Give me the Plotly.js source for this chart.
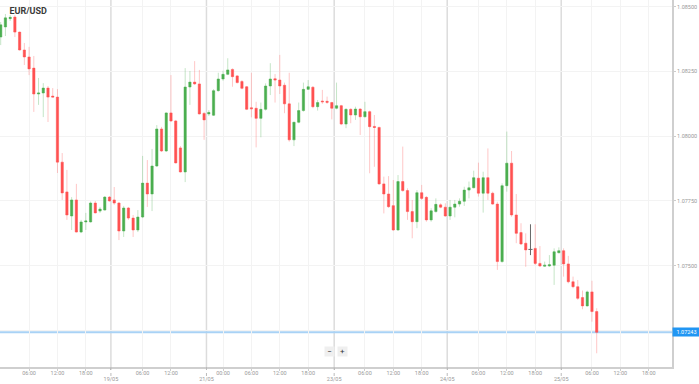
<!DOCTYPE html>
<html>
<head>
<meta charset="utf-8">
<script src="https://cdn.plot.ly/plotly-3.0.1.min.js"></script>
<style>html,body{margin:0;padding:0;background:#fff;}#chart{width:699px;height:384px;}</style>
</head>
<body>
<div id="chart"></div>
<script>
// Hourly EUR/USD candles
const open = [1.08383,1.08422,1.08454,1.08460,1.08402,1.08333,1.08306,1.08263,1.08163,1.08167,
1.08186,1.08155,1.08151,1.07900,1.07785,1.07692,1.07754,1.07630,1.07669,1.07669,
1.07742,1.07711,1.07715,1.07765,1.07754,1.07742,1.07634,1.07723,1.07684,1.07638,
1.07688,1.07819,1.07777,1.07885,1.08028,1.07943,1.08090,1.08059,1.07955,1.07862,
1.08190,1.08209,1.08202,1.08088,1.08086,1.08081,1.08176,1.08221,1.08239,1.08258,
1.08233,1.08211,1.08191,1.08110,1.08108,1.08069,1.08104,1.08194,1.08222,1.08217,
1.08197,1.08125,1.07986,1.08054,1.08099,1.08181,1.08189,1.08114,1.08136,1.08135,
1.08130,1.08108,1.08118,1.08047,1.08104,1.08082,1.08105,1.08075,1.08095,1.08038,
1.08034,1.07816,1.07777,1.07732,1.07638,1.07825,1.07790,1.07709,1.07670,1.07782,
1.07764,1.07677,1.07709,1.07735,1.07726,1.07692,1.07726,1.07738,1.07749,1.07792,
1.07801,1.07838,1.07780,1.07840,1.07780,1.07738,1.07516,1.07809,1.07896,1.07696,
1.07628,1.07587,1.07563,1.07567,1.07509,1.07498,1.07499,1.07502,1.07550,1.07558,
1.07507,1.07438,1.07419,1.07377,1.07345,1.07399,1.07323];
const high = [1.08441,1.08472,1.08468,1.08468,1.08404,1.08360,1.08345,1.08310,1.08225,1.08205,
1.08194,1.08186,1.08182,1.07935,1.07870,1.07765,1.07816,1.07677,1.07704,1.07748,
1.07750,1.07727,1.07769,1.07769,1.07804,1.07746,1.07731,1.07727,1.07696,1.07715,
1.07924,1.07908,1.07951,1.08043,1.08036,1.08092,1.08236,1.08063,1.07962,1.08263,
1.08252,1.08290,1.08256,1.08094,1.08101,1.08182,1.08245,1.08253,1.08301,1.08262,
1.08236,1.08217,1.08194,1.08245,1.08133,1.08130,1.08204,1.08282,1.08240,1.08314,
1.08207,1.08245,1.08056,1.08130,1.08207,1.08217,1.08194,1.08140,1.08179,1.08153,
1.08133,1.08207,1.08121,1.08108,1.08108,1.08114,1.08108,1.08133,1.08099,1.08082,
1.08037,1.07844,1.07846,1.07831,1.07850,1.07960,1.07799,1.07754,1.07792,1.07812,
1.07769,1.07722,1.07760,1.07741,1.07741,1.07754,1.07754,1.07760,1.07805,1.07825,
1.07867,1.07898,1.07863,1.07953,1.07786,1.07747,1.07818,1.08018,1.07943,1.07777,
1.07664,1.07625,1.07660,1.07660,1.07576,1.07516,1.07541,1.07567,1.07571,1.07567,
1.07538,1.07458,1.07445,1.07404,1.07404,1.07442,1.07336];
const low = [1.08352,1.08387,1.08445,1.08383,1.08331,1.08275,1.08236,1.08094,1.08121,1.08074,
1.08055,1.08150,1.07858,1.07754,1.07677,1.07638,1.07628,1.07626,1.07638,1.07667,
1.07702,1.07704,1.07713,1.07748,1.07735,1.07599,1.07611,1.07677,1.07611,1.07630,
1.07684,1.07727,1.07711,1.07881,1.07939,1.07939,1.08055,1.07895,1.07860,1.07823,
1.08121,1.08198,1.08084,1.07986,1.08078,1.08078,1.08172,1.08214,1.08236,1.08191,
1.08204,1.08181,1.08101,1.08073,1.07957,1.07996,1.08099,1.08159,1.08130,1.08163,
1.08089,1.07979,1.07962,1.08050,1.08095,1.08179,1.08108,1.08099,1.08125,1.08125,
1.08065,1.08104,1.08043,1.08031,1.08050,1.08063,1.08005,1.08073,1.07857,1.07882,
1.07812,1.07702,1.07723,1.07635,1.07635,1.07786,1.07677,1.07606,1.07645,1.07754,
1.07670,1.07670,1.07705,1.07722,1.07689,1.07677,1.07687,1.07728,1.07731,1.07760,
1.07799,1.07767,1.07705,1.07754,1.07735,1.07484,1.07512,1.07786,1.07689,1.07587,
1.07580,1.07496,1.07541,1.07503,1.07496,1.07496,1.07496,1.07426,1.07548,1.07458,
1.07432,1.07413,1.07368,1.07332,1.07342,1.07284,1.07162];
const close = [1.08430,1.08457,1.08459,1.08402,1.08333,1.08306,1.08260,1.08163,1.08167,1.08186,
1.08151,1.08151,1.07900,1.07781,1.07696,1.07754,1.07630,1.07669,1.07673,1.07742,
1.07704,1.07719,1.07765,1.07750,1.07742,1.07634,1.07723,1.07684,1.07638,1.07688,
1.07819,1.07777,1.07885,1.08028,1.07943,1.08090,1.08059,1.07897,1.07862,1.08190,
1.08209,1.08202,1.08086,1.08063,1.08092,1.08176,1.08221,1.08239,1.08256,1.08230,
1.08207,1.08185,1.08104,1.08106,1.08069,1.08104,1.08194,1.08221,1.08217,1.08194,
1.08125,1.07986,1.08054,1.08099,1.08181,1.08191,1.08114,1.08130,1.08133,1.08131,
1.08108,1.08118,1.08047,1.08104,1.08082,1.08105,1.08075,1.08095,1.08037,1.08034,
1.07816,1.07777,1.07728,1.07638,1.07825,1.07790,1.07709,1.07670,1.07782,1.07760,
1.07677,1.07712,1.07737,1.07726,1.07692,1.07726,1.07738,1.07749,1.07792,1.07801,
1.07840,1.07780,1.07840,1.07780,1.07738,1.07516,1.07809,1.07896,1.07696,1.07625,
1.07584,1.07561,1.07563,1.07509,1.07499,1.07502,1.07504,1.07554,1.07558,1.07507,
1.07438,1.07419,1.07374,1.07345,1.07399,1.07323,1.07243];

// x-axis ticks (in candle-index units)
const timeTickVals = [6,12,18,30,36,47,53,59,65,77,83,89,101,107,113,125,131,137];
const timeTickText = ['06:00','12:00','18:00','06:00','12:00','00:00','06:00','12:00','18:00','06:00','12:00','18:00','06:00','12:00','18:00','06:00','12:00','18:00'];
const dayTickVals = [23.3,43.5,70.5,94.4,118.5];
const dayTickText = ['19/05','21/05','23/05','24/05','25/05'];
// y-axis ticks
const priceTickVals = [1.0725,1.0750,1.0775,1.0800,1.0825,1.0850];
const priceTickText = priceTickVals.map(v => v.toFixed(5));

const symbol = 'EUR/USD';

const idx = open.map((_, i) => i);
const UP = '#4caf50', DOWN = '#ff5252';

function wicks(filter) {
  const x = [], y = [];
  idx.forEach(i => { if (filter(i)) { x.push(i, i, null); y.push(low[i], high[i], null); } });
  return {x, y};
}
const wu = wicks(i => close[i] > open[i]);
const wd = wicks(i => close[i] < open[i]);
const wf = wicks(i => close[i] === open[i]);
const bodyIdx = idx.filter(i => close[i] !== open[i]);
const flatIdx = idx.filter(i => close[i] === open[i]);

const traces = [
  {type:'scatter', mode:'lines', x:wu.x, y:wu.y, line:{color:'rgba(76,175,80,0.32)', width:1}, hoverinfo:'skip', showlegend:false},
  {type:'scatter', mode:'lines', x:wd.x, y:wd.y, line:{color:'rgba(255,82,82,0.32)', width:1}, hoverinfo:'skip', showlegend:false},
  {type:'scatter', mode:'lines', x:wf.x, y:wf.y, line:{color:'#666', width:1}, hoverinfo:'skip', showlegend:false},
  {type:'candlestick',
   x: bodyIdx,
   open: bodyIdx.map(i => open[i]),
   close: bodyIdx.map(i => close[i]),
   high: bodyIdx.map(i => Math.max(open[i], close[i])),
   low: bodyIdx.map(i => Math.min(open[i], close[i])),
   increasing:{line:{color:UP, width:0.5}, fillcolor:UP},
   decreasing:{line:{color:DOWN, width:0.5}, fillcolor:DOWN},
   showlegend:false, hoverinfo:'skip'},
  {type:'scatter', mode:'markers', x:flatIdx, y:flatIdx.map(i => close[i]),
   marker:{symbol:'line-ew', size:3, line:{color:'#666', width:1}}, hoverinfo:'skip', showlegend:false},
  // carrier for the day-label axis
  {type:'scatter', mode:'markers', x:dayTickVals, y:dayTickVals.map(() => priceTickVals[0]), xaxis:'x2',
   marker:{opacity:0}, hoverinfo:'skip', showlegend:false}
];

const last = close[close.length - 1];
const shapes = [];
dayTickVals.forEach(v => {
  shapes.push({type:'line', xref:'x', yref:'paper', x0:v, x1:v, y0:0, y1:1, line:{color:'#dcdcdc', width:1.5}, layer:'below'});
  shapes.push({type:'line', xref:'x', yref:'paper', x0:v, x1:v, y0:0, y1:-0.025, line:{color:'#bbb', width:1, dash:'dot'}, layer:'above'});
});
shapes.push({type:'line', xref:'paper', yref:'y', x0:0, x1:1, y0:last, y1:last, line:{color:'#a9d2f5', width:2}, layer:'below'});

const font = 'Roboto, "Noto Sans", sans-serif';
const xr = [-0.148, 141.92];
const layout = {
  width:699, height:384,
  margin:{l:0, r:27, t:0, b:17},
  paper_bgcolor:'#fff', plot_bgcolor:'#fff',
  font:{family:font},
  title:{text:'<b>'+symbol+'</b>', x:0.0135, xanchor:'left', y:0.972, yanchor:'middle', xref:'container', yref:'container',
         font:{size:9, color:'#3a3a3a', family:font}},
  showlegend:false,
  xaxis:{range:xr, tickvals: timeTickVals, ticktext: timeTickText,
         tickfont:{size:5.5, color:'#999'}, tickangle:0, ticks:'outside', ticklen:2, tickcolor:'#ccc',
         ticklabelstandoff:-3,
         showline:true, linecolor:'#cfcfcf', linewidth:2, showgrid:true, gridcolor:'#f3f3f3', gridwidth:1,
         zeroline:false, rangeslider:{visible:false}, fixedrange:true},
  xaxis2:{range:xr, overlaying:'x', side:'bottom', anchor:'y', tickvals: dayTickVals, ticktext: dayTickText,
         tickfont:{size:5.5, color:'#999'}, tickangle:0, ticks:'outside', ticklen:2, tickcolor:'#bbb',
         ticklabelstandoff:4, showline:false, showgrid:false, zeroline:false, fixedrange:true},
  yaxis:{side:'right', range:[1.07109, 1.08526], tickvals:priceTickVals, ticktext:priceTickText,
         tickfont:{size:5.5, color:'#999'}, ticks:'outside', ticklen:2, tickcolor:'#ccc',
         showline:true, linecolor:'#cfcfcf', linewidth:2, showgrid:true, gridcolor:'#f3f3f3',
         zeroline:false, fixedrange:true},
  shapes: shapes,
  annotations:[
    {xref:'paper', yref:'y', x:1, y:last, xanchor:'left', yanchor:'middle', text:last.toFixed(5), showarrow:false,
     bgcolor:'#2196f3', font:{size:5.5, color:'#fff'}, width:26, height:7, borderpad:0.5},
    {xref:'paper', yref:'paper', x:0.49, y:0.027, text:'−', showarrow:false, bgcolor:'#efefef',
     font:{size:8, color:'#333'}, width:9, height:9, borderpad:0},
    {xref:'paper', yref:'paper', x:0.509, y:0.027, text:'+', showarrow:false, bgcolor:'#efefef',
     font:{size:8, color:'#333'}, width:9, height:9, borderpad:0}
  ]
};

Plotly.newPlot('chart', traces, layout, {displayModeBar:false, staticPlot:true});
</script>
</body>
</html>
